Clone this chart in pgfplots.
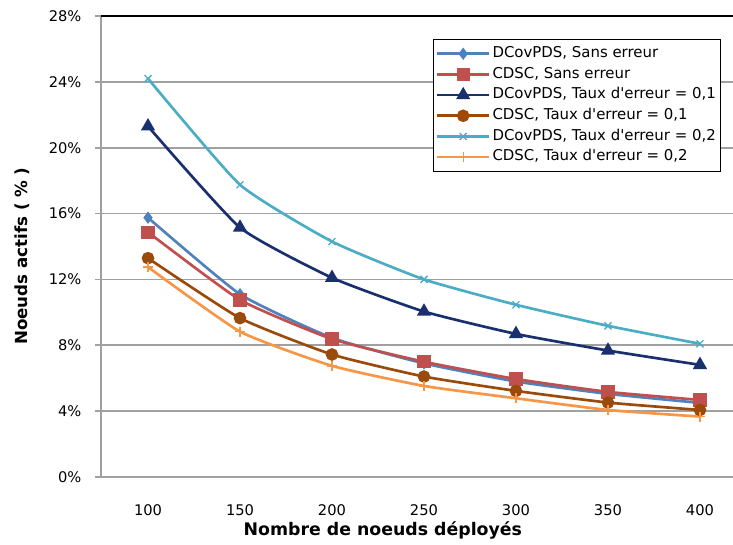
\documentclass[border=0pt]{standalone}
\usepackage{pgfplots}
\pgfplotsset{compat=1.18}
\usepackage{fontspec}
\setmainfont{DejaVu Sans}
\definecolor{cA}{HTML}{4F81BD}
\definecolor{cB}{HTML}{C0504D}
\definecolor{cC}{HTML}{1A2F6E}
\definecolor{cD}{HTML}{9A4A0A}
\definecolor{cE}{HTML}{4BACC6}
\definecolor{cF}{HTML}{F79646}
\definecolor{gridc}{HTML}{A0A0A0}
\begin{document}
\begin{tikzpicture}
\useasboundingbox (-75.75pt,-51pt) rectangle (474pt,357.75pt);
\begin{axis}[
  at={(0,0)}, anchor=south west,
  scale only axis, width=474pt, height=345.75pt,
  xmin=-0.511, xmax=6.359, ymin=0, ymax=28,
  xtick={0,1,2,3,4,5,6},
  xticklabels={100,150,200,250,300,350,400},
  ytick={0,4,8,12,16,20,24,28},
  yticklabels={0\%,4\%,8\%,12\%,16\%,20\%,24\%,28\%},
  axis x line*=bottom, axis y line*=left,
  x axis line style={-, gridc, line width=1.2pt},
  y axis line style={-, gridc, line width=1.2pt},
  ymajorgrids, major grid style={gridc, line width=1.2pt},
  major tick length=4.5pt,
  xtick style={draw=none},
  ytick style={gridc, line width=1.2pt},
  tick align=outside,
  tick label style={font=\fontsize{11}{13}\selectfont, inner sep=0pt},
  xticklabel style={anchor=center, yshift=-20pt},
  yticklabel style={anchor=east, xshift=-10pt},
  xlabel={Nombre de noeuds déployés},
  ylabel={Noeuds actifs ( \% )},
  every axis x label/.style={at={(rel axis cs:0.446,0)}, yshift=-39.75pt, anchor=center, font=\bfseries\fontsize{13}{15}\selectfont},
  every axis y label/.style={at={(rel axis cs:0,0.479)}, xshift=-59.25pt, rotate=90, anchor=center, font=\bfseries\fontsize{12.5}{15}\selectfont},
  clip=false,
  every axis plot/.append style={line width=2pt, smooth, tension=0.3},
  legend cell align=left,
  legend style={at={(0.525,0.95)}, anchor=north west, draw=black, line width=0.6pt, fill=white,
    font=\fontsize{11.2}{12}\selectfont, inner xsep=2pt, inner ysep=3pt, row sep=0pt,
    nodes={inner ysep=0pt, inner xsep=1.5pt, text height=10.5pt, text depth=5pt}},
  legend image code/.code={\draw[mark repeat=2,mark phase=2,#1] plot coordinates {(0pt,0pt) (19.5pt,0pt) (39pt,0pt)};},
]
\addplot[cA, mark=diamond*, mark size=3pt, mark options={solid, fill=cA}] coordinates {(0,15.75) (1,11.1) (2,8.45) (3,6.9) (4,5.8) (5,5.05) (6,4.5)};
\addlegendentry{DCovPDS, Sans erreur}
\addplot[cB, mark=square*, mark size=4pt, mark options={solid, fill=cB}] coordinates {(0,14.87) (1,10.76) (2,8.38) (3,7.0) (4,5.95) (5,5.17) (6,4.68)};
\addlegendentry{CDSC, Sans erreur}
\addplot[cC, mark=triangle*, mark size=4.2pt, mark options={solid, fill=cC}] coordinates {(0,21.3) (1,15.15) (2,12.1) (3,10.05) (4,8.69) (5,7.68) (6,6.81)};
\addlegendentry{DCovPDS, Taux d\textquotesingle erreur = 0,1}
\addplot[cD, mark=*, mark size=3.7pt, mark options={solid, fill=cD}] coordinates {(0,13.29) (1,9.65) (2,7.44) (3,6.1) (4,5.23) (5,4.52) (6,4.07)};
\addlegendentry{CDSC, Taux d\textquotesingle erreur = 0,1}
\addplot[cE, mark=x, mark size=3.7pt, mark options={solid, line width=1pt}] coordinates {(0,24.2) (1,17.75) (2,14.3) (3,12.0) (4,10.46) (5,9.18) (6,8.09)};
\addlegendentry{DCovPDS, Taux d\textquotesingle erreur = 0,2}
\addplot[cF, mark=+, mark size=3.7pt, mark options={solid, line width=1pt}] coordinates {(0,12.75) (1,8.83) (2,6.75) (3,5.53) (4,4.78) (5,4.07) (6,3.67)};
\addlegendentry{CDSC, Taux d\textquotesingle erreur = 0,2}
\draw[black, line width=1.2pt] (rel axis cs:0,1) -- (rel axis cs:1,1);
\end{axis}
\end{tikzpicture}
\end{document}
